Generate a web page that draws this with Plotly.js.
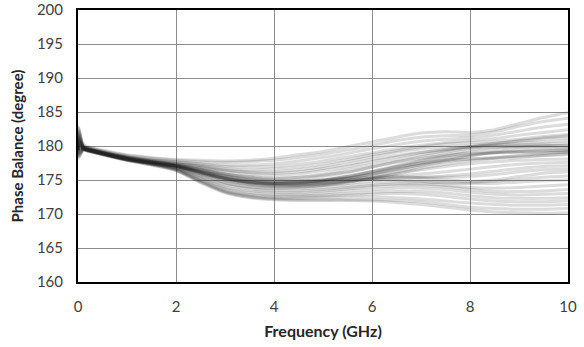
<!DOCTYPE html>
<html>
<head>
<meta charset="utf-8">
<script src="https://cdn.plot.ly/plotly-3.0.1.min.js"></script>
<style>html,body{margin:0;padding:0;background:#fff}#chart{width:584px;height:347px}</style>
</head>
<body>
<div id="chart"></div>
<script>
// Frequency points (GHz)
const freq = [0, 0.015, 0.12, 0.5, 1, 1.5, 2, 2.5, 3, 3.5, 4, 4.5, 5, 5.5, 6, 6.5, 7, 7.5, 8, 8.5, 9, 9.5, 10];

// Phase balance (degree) for each measured sample
const c01 = [179.8,182.4,180.2,179.4,178.7,178.3,178.0,177.9,177.8,177.9,178.2,178.7,179.2,179.9,180.6,181.3,181.9,182.1,182.0,182.4,183.3,184.2,184.9];
const c02 = [179.7,181.0,180.0,179.3,178.6,178.2,177.9,177.7,177.6,177.7,177.9,178.3,178.8,179.4,180.1,180.8,181.3,181.5,181.6,182.1,182.9,183.6,184.1];
const c03 = [179.6,180.6,179.9,179.2,178.5,178.0,177.7,177.4,177.2,177.2,177.4,177.8,178.3,178.9,179.6,180.2,180.7,181.0,181.2,181.6,182.2,182.8,183.2];
const c04 = [179.5,179.2,179.8,179.2,178.4,177.9,177.6,177.3,177.0,176.9,177.0,177.3,177.8,178.4,179.0,179.6,180.1,180.5,180.8,181.1,181.6,182.0,182.4];
const c05 = [179.6,182.0,179.9,179.1,178.4,177.9,177.5,177.1,176.7,176.5,176.6,176.9,177.4,178.0,178.7,179.3,179.9,180.3,180.5,180.7,181.0,181.4,181.7];
const c06 = [179.4,180.2,179.8,179.1,178.3,177.8,177.4,177.0,176.5,176.2,176.2,176.5,177.0,177.7,178.4,179.1,179.6,179.9,180.1,180.4,180.7,181.0,181.2];
const c07 = [179.5,178.5,179.7,179.0,178.3,177.8,177.3,176.8,176.2,175.8,175.7,175.9,176.4,177.0,177.7,178.4,179.0,179.5,179.9,180.2,180.4,180.6,180.8];
const c08 = [179.3,181.2,179.7,179.0,178.2,177.7,177.2,176.6,175.9,175.4,175.2,175.4,175.9,176.6,177.3,178.0,178.7,179.3,179.8,180.1,180.2,180.3,180.4];
const c09 = [179.4,179.7,179.6,178.9,178.2,177.7,177.2,176.4,175.6,175.0,174.8,175.0,175.5,176.1,176.9,177.7,178.4,179.1,179.7,179.9,180.0,180.1,180.0];
const c10 = [179.5,182.8,179.7,179.0,178.2,177.6,177.1,176.3,175.4,174.8,174.5,174.6,175.0,175.6,176.3,177.1,177.9,178.7,179.4,179.8,179.9,179.9,179.8];
const c11 = [179.3,178.8,179.6,178.9,178.1,177.6,177.1,176.2,175.3,174.7,174.4,174.4,174.7,175.2,175.8,176.5,177.3,178.0,178.6,179.1,179.4,179.6,179.6];
const c12 = [179.4,180.8,179.6,178.9,178.1,177.6,177.0,176.1,175.2,174.6,174.3,174.3,174.5,174.9,175.5,176.2,177.0,177.8,178.5,179.0,179.2,179.3,179.4];
const c13 = [179.5,179.9,179.7,179.0,178.2,177.6,177.1,176.5,175.8,175.3,175.0,174.9,175.0,175.3,175.9,176.7,177.5,178.2,178.7,179.0,179.2,179.3,179.3];
const c14 = [179.4,181.6,179.7,179.0,178.2,177.7,177.2,176.6,175.9,175.5,175.3,175.4,175.7,176.2,176.9,177.6,178.2,178.6,178.9,179.0,179.0,179.0,179.1];
const c15 = [179.3,179.0,179.6,178.9,178.1,177.6,177.1,176.3,175.5,175.0,174.7,174.7,174.9,175.3,175.9,176.6,177.2,177.7,178.1,178.3,178.5,178.6,178.7];
const c16 = [179.4,180.4,179.6,178.9,178.1,177.5,177.0,176.0,175.0,174.4,174.1,174.1,174.3,174.7,175.3,175.9,176.5,177.0,177.4,177.7,177.9,178.0,178.1];
const c17 = [179.5,182.2,179.7,178.9,178.1,177.5,177.0,176.0,175.0,174.4,174.2,174.2,174.4,174.8,175.2,175.6,175.9,176.2,176.6,177.0,177.3,177.5,177.6];
const c18 = [179.3,178.2,179.5,178.8,178.0,177.5,176.9,175.9,174.9,174.3,174.0,174.0,174.2,174.5,174.9,175.2,175.4,175.6,175.9,176.3,176.7,177.0,177.1];
const c19 = [179.4,180.0,179.6,178.9,178.1,177.5,177.0,176.1,175.2,174.6,174.4,174.4,174.6,174.9,175.2,175.4,175.4,175.4,175.5,175.8,176.2,176.5,176.6];
const c20 = [179.5,181.4,179.7,179.0,178.2,177.6,177.0,176.2,175.3,174.8,174.6,174.7,174.9,175.2,175.4,175.5,175.3,175.0,174.8,175.0,175.5,176.0,176.2];
const c21 = [179.4,179.3,179.6,178.9,178.1,177.5,177.0,176.1,175.2,174.7,174.5,174.5,174.7,175.0,175.1,175.0,174.8,174.6,174.6,174.8,175.1,175.4,175.6];
const c22 = [179.3,180.6,179.5,178.8,178.0,177.4,176.8,175.6,174.5,173.9,173.7,173.7,173.9,174.2,174.5,174.7,174.7,174.6,174.5,174.5,174.7,174.9,175.0];
const c23 = [179.4,178.6,179.5,178.8,178.0,177.4,176.8,175.5,174.3,173.7,173.4,173.4,173.6,173.9,174.2,174.4,174.4,174.2,173.9,173.8,173.9,174.1,174.3];
const c24 = [179.2,181.8,179.5,178.8,178.0,177.4,176.7,175.3,174.0,173.4,173.2,173.2,173.4,173.7,174.0,174.2,174.2,174.0,173.6,173.3,173.3,173.4,173.6];
const c25 = [179.3,179.5,179.5,178.8,178.0,177.4,176.7,175.2,173.8,173.2,172.9,172.9,173.1,173.4,173.6,173.8,173.8,173.6,173.2,172.9,172.8,172.9,173.0];
const c26 = [179.4,180.9,179.6,178.9,178.0,177.4,176.6,175.0,173.6,172.9,172.7,172.7,172.8,173.0,173.2,173.3,173.3,173.1,172.7,172.4,172.3,172.3,172.4];
const c27 = [179.2,178.4,179.4,178.7,177.9,177.3,176.5,174.9,173.4,172.8,172.5,172.5,172.6,172.8,172.9,173.0,172.9,172.6,172.2,171.9,171.8,171.8,171.9];
const c28 = [179.3,180.2,179.5,178.8,177.9,177.3,176.5,174.8,173.3,172.6,172.3,172.3,172.4,172.5,172.5,172.4,172.2,171.9,171.6,171.4,171.3,171.3,171.4];
const c29 = [179.4,181.3,179.5,178.8,177.9,177.2,176.4,174.7,173.2,172.5,172.2,172.1,172.1,172.1,172.1,172.0,171.8,171.4,171.0,170.8,170.7,170.7,170.8];
const c30 = [179.3,179.8,179.5,178.7,177.9,177.2,176.4,174.6,173.1,172.4,172.1,172.0,172.0,172.0,171.9,171.7,171.4,171.0,170.6,170.3,170.2,170.1,170.2];
const c31 = [179.4,180.5,179.6,178.9,178.1,177.5,176.9,175.8,174.6,174.0,173.8,173.9,174.2,174.7,175.3,176.0,176.7,177.3,177.8,178.2,178.6,178.9,179.1];
const c32 = [179.5,182.6,179.8,179.1,178.3,177.8,177.4,176.9,176.4,176.1,176.0,176.2,176.7,177.3,178.0,178.6,179.1,179.5,179.9,180.3,180.8,181.2,181.5];
const c33 = [179.4,179.6,179.7,179.0,178.3,177.7,177.2,176.5,175.7,175.1,174.8,174.8,175.0,175.5,176.2,177.0,177.8,178.5,179.1,179.5,179.8,180.0,180.1];
const c34 = [179.5,178.9,179.6,178.9,178.1,177.6,177.1,176.2,175.3,174.7,174.5,174.6,174.9,175.5,176.2,176.9,177.5,177.9,178.1,178.2,178.3,178.6,178.9];

const samples = [c01,c02,c03,c04,c05,c06,c07,c08,c09,c10,c11,c12,c13,c14,c15,c16,c17,c18,c19,c20,c21,c22,c23,c24,c25,c26,c27,c28,c29,c30,c31,c32,c33,c34];

const xTicks = [0, 2, 4, 6, 8, 10];
const yTicks = [160, 165, 170, 175, 180, 185, 190, 195, 200];

const traces = samples.map(ys => ({
  x: freq, y: ys, type: 'scatter', mode: 'lines',
  line: {color: 'rgba(40,40,40,0.16)', width: 3, shape: 'spline', smoothing: 0.7},
  hoverinfo: 'skip', showlegend: false
}));

const fontFam = 'Lato, "Open Sans", sans-serif';
const layout = {
  width: 584, height: 347,
  margin: {l: 78, r: 16, t: 10, b: 65},
  paper_bgcolor: '#fff', plot_bgcolor: '#fff',
  showlegend: false,
  xaxis: {
    range: [0, 10], tickvals: xTicks, ticktext: xTicks.map(String),
    showgrid: true, gridcolor: '#8c8c8c', gridwidth: 1,
    zeroline: false, showline: true, linecolor: '#000', linewidth: 2, mirror: true,
    ticks: '', ticklabelstandoff: 10,
    tickfont: {family: fontFam, size: 15, color: '#404040'},
    title: {text: '<b>Frequency (GHz)</b>', font: {family: fontFam, size: 16, color: '#262626'}, standoff: 12}
  },
  yaxis: {
    range: [160, 200], tickvals: yTicks, ticktext: yTicks.map(String),
    showgrid: true, gridcolor: '#8c8c8c', gridwidth: 1,
    zeroline: false, showline: true, linecolor: '#000', linewidth: 2, mirror: true,
    ticks: '', ticklabelstandoff: 10,
    tickfont: {family: fontFam, size: 15, color: '#404040'},
    title: {text: '<b>Phase Balance (degree)</b>', font: {family: fontFam, size: 15, color: '#262626'}, standoff: 10}
  }
};

Plotly.newPlot('chart', traces, layout, {staticPlot: true, displayModeBar: false});
</script>
</body>
</html>
